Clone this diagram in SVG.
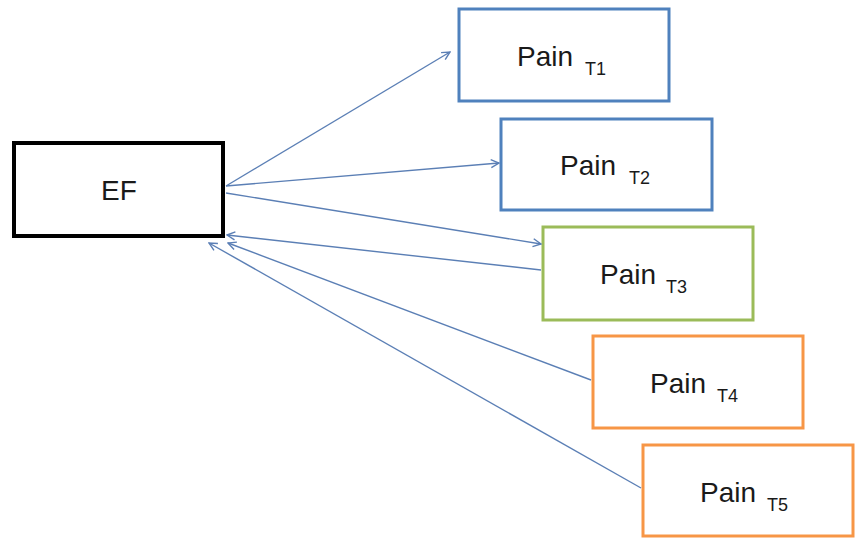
<svg xmlns="http://www.w3.org/2000/svg" width="859" height="538" viewBox="0 0 859 538">
<style>
.box{fill:#fff;stroke-width:3}
.lbl{font-family:"Liberation Sans","DejaVu Sans",sans-serif;font-size:28px;fill:#1a1a1a}
.sub{font-size:18px}
.conn line{stroke:#5b7fb5;stroke-width:1.4;fill:none;marker-end:url(#ah)}
</style>
<defs>
<marker id="ah" viewBox="0 0 10 10" refX="9" refY="5" markerWidth="10" markerHeight="10" markerUnits="userSpaceOnUse" orient="auto">
<path d="M1,1 L9,5 L1,9" fill="none" stroke="#5b7fb5" stroke-width="1.4"/>
</marker>
</defs>
<rect width="859" height="538" fill="#fff"/>
<g id="EF">
<rect x="14" y="143" width="209" height="93" fill="#fff" stroke="#000" stroke-width="4"/>
<text class="lbl" x="119" y="200" text-anchor="middle">EF</text>
</g>
<g id="T1">
<rect class="box" x="459" y="9" width="210" height="92" stroke="#4f81bd"/>
<text class="lbl" x="517" y="66">Pain<tspan class="sub" x="585" y="75">T1</tspan></text>
</g>
<g id="T2">
<rect class="box" x="501" y="119" width="211" height="91" stroke="#4f81bd"/>
<text class="lbl" x="560" y="175">Pain<tspan class="sub" x="629" y="184">T2</tspan></text>
</g>
<g id="T3">
<rect class="box" x="543" y="227" width="210" height="93" stroke="#9bbb59"/>
<text class="lbl" x="600" y="284">Pain<tspan class="sub" x="666" y="293">T3</tspan></text>
</g>
<g id="T4">
<rect class="box" x="593" y="336" width="210" height="92" stroke="#f79646"/>
<text class="lbl" x="650" y="393">Pain<tspan class="sub" x="717" y="402">T4</tspan></text>
</g>
<g id="T5">
<rect class="box" x="643" y="445" width="210" height="91" stroke="#f79646"/>
<text class="lbl" x="700" y="502">Pain<tspan class="sub" x="767" y="511">T5</tspan></text>
</g>
<g class="conn" id="connectors">
<line x1="226" y1="186" x2="450" y2="52"/>
<line x1="226" y1="186" x2="499" y2="163"/>
<line x1="226" y1="193" x2="541" y2="244"/>
<line x1="541" y1="270" x2="227" y2="235"/>
<line x1="591" y1="380" x2="228" y2="243"/>
<line x1="641" y1="488" x2="209" y2="243"/>
</g>
</svg>
